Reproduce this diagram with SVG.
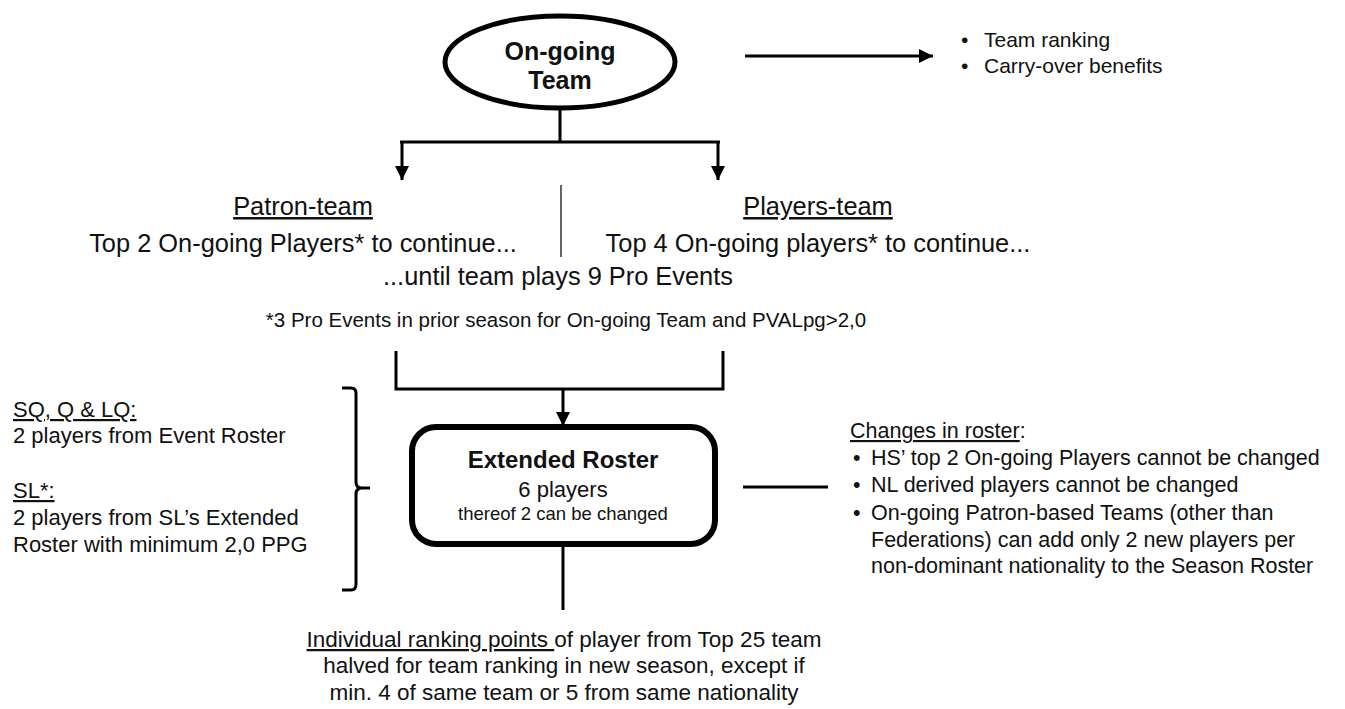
<svg xmlns="http://www.w3.org/2000/svg" width="1345" height="709" viewBox="0 0 1345 709">
<defs>
<style>
text{font-family:"Liberation Sans",Arial,sans-serif;fill:#111}
.b{font-weight:bold}
.m{text-anchor:middle}
.u{text-decoration:underline}
.ln{stroke:#000;stroke-width:3;fill:none}
.thick{stroke:#000;stroke-width:5;fill:#fff}
</style>
<marker id="ah" markerUnits="userSpaceOnUse" markerWidth="16" markerHeight="14" refX="14" refY="7" orient="auto">
<path d="M0,0 L14,7 L0,14 z" fill="#000"/>
</marker>
</defs>
<g id="connectors">
<line class="ln" x1="745" y1="56" x2="933" y2="56" marker-end="url(#ah)"/>
<path class="ln" d="M560,110 V142 M400,142 H720"/>
<line class="ln" x1="402" y1="141" x2="402" y2="180" marker-end="url(#ah)"/>
<line class="ln" x1="718" y1="141" x2="718" y2="180" marker-end="url(#ah)"/>
<line x1="561" y1="185" x2="561" y2="257" stroke="#555" stroke-width="1.8"/>
<path class="ln" d="M396,351 V389 H723 V351"/>
<line class="ln" x1="563" y1="389" x2="563" y2="426" marker-end="url(#ah)"/>
<path class="ln" d="M342,388 H351 Q356,388 356,393 V482 Q356,488 362,488 H370 M362,488 Q356,488 356,494 V584 Q356,590 351,590 H342"/>
<line class="ln" x1="743" y1="487" x2="828" y2="487"/>
<line class="ln" x1="563" y1="545" x2="563" y2="610"/>
</g>
<g id="ongoing-team">
<ellipse class="thick" cx="560" cy="62" rx="115" ry="46"/>
<text class="b m" x="560" y="60" font-size="25">On-going</text>
<text class="b m" x="560" y="89" font-size="25">Team</text>
</g>
<g id="benefits">
<text x="961" y="47" font-size="21">•</text>
<text x="984" y="47" font-size="21">Team ranking</text>
<text x="961" y="73" font-size="21">•</text>
<text x="984" y="73" font-size="21">Carry-over benefits</text>
</g>
<g id="patron-team">
<text class="m u" x="303" y="215" font-size="25.4">Patron-team</text>
<text class="m" x="303" y="252" font-size="25.4">Top 2 On-going Players* to continue...</text>
</g>
<g id="players-team">
<text class="m u" x="818" y="215" font-size="25.4">Players-team</text>
<text class="m" x="818" y="252" font-size="25.4">Top 4 On-going players* to continue...</text>
</g>
<g id="until">
<text class="m" x="558" y="285" font-size="25.4">...until team plays 9 Pro Events</text>
</g>
<g id="footnote">
<text class="m" x="566" y="327" font-size="20.5">*3 Pro Events in prior season for On-going Team and PVALpg&gt;2,0</text>
</g>
<g id="event-roster-rules">
<text x="13" y="417" font-size="22"><tspan class="u">SQ, Q &amp; LQ:</tspan></text>
<text x="13" y="443" font-size="22">2 players from Event Roster</text>
<text x="13" y="498" font-size="22"><tspan class="u">SL*:</tspan></text>
<text x="13" y="525" font-size="22">2 players from SL’s Extended</text>
<text x="13" y="552" font-size="22">Roster with minimum 2,0 PPG</text>
</g>
<g id="extended-roster">
<rect x="412" y="427" width="303" height="117" rx="24" ry="24" fill="#fff" stroke="#000" stroke-width="6"/>
<text class="b m" x="563" y="468" font-size="24">Extended Roster</text>
<text class="m" x="563" y="497" font-size="22">6 players</text>
<text class="m" x="563" y="520" font-size="18.5">thereof 2 can be changed</text>
</g>
<g id="changes-in-roster">
<text x="850" y="438" font-size="21.5"><tspan class="u">Changes in roster</tspan>:</text>
<text x="853" y="465" font-size="21.5">•</text>
<text x="871" y="465" font-size="21.5">HS’ top 2 On-going Players cannot be changed</text>
<text x="853" y="492" font-size="21.5">•</text>
<text x="871" y="492" font-size="21.5">NL derived players cannot be changed</text>
<text x="853" y="520" font-size="21.5">•</text>
<text x="871" y="520" font-size="21.5">On-going Patron-based Teams (other than</text>
<text x="871" y="547" font-size="21.5">Federations) can add only 2 new players per</text>
<text x="871" y="573" font-size="21.5">non-dominant nationality to the Season Roster</text>
</g>
<g id="ranking-points">
<text class="m" x="564" y="647" font-size="22.5"><tspan class="u">Individual ranking points </tspan>of player from Top 25 team</text>
<text class="m" x="564" y="673" font-size="22.5">halved for team ranking in new season, except if</text>
<text class="m" x="564" y="700" font-size="22.5">min. 4 of same team or 5 from same nationality</text>
</g>
</svg>
